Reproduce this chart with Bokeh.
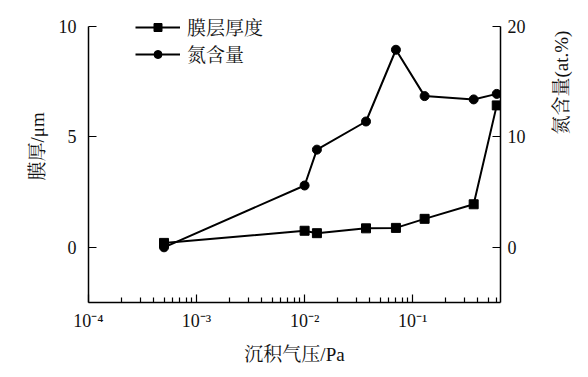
import math
from bokeh.plotting import figure
from bokeh.models import (Range1d, LinearAxis, FixedTicker, CustomJSTickFormatter,
                          Legend, LegendItem)
from bokeh.embed import file_html
from bokeh.resources import INLINE

# ---- data ----
pressure = [5e-4, 0.010, 0.013, 0.037, 0.070, 0.129, 0.367, 0.60]
thickness = [0.2, 0.75, 0.64, 0.86, 0.88, 1.29, 1.95, 6.43]
nitrogen = [0.0, 5.6, 8.85, 11.4, 17.9, 13.7, 13.4, 13.9]
x_major = [1e-4, 1e-3, 1e-2, 1e-1]
x_minor = [m * d for d in x_major for m in range(2, 10) if m * d < 0.65]
left_ticks = [0, 5, 10]
right_ticks = [0, 10, 20]
series_names = ["膜层厚度", "氮含量"]
x_title = "沉积气压/Pa"
y_title = "膜厚/μm"
y2_title = "氮含量(at.%)"

FONT = "'Liberation Serif', 'Noto Serif CJK SC', 'Noto Sans CJK SC'"
NB = "\u00a0"

p = figure(width=588, height=377, x_axis_type="log",
           x_range=Range1d(1e-4, 0.65), y_range=Range1d(-2.5, 11),
           output_backend="svg", toolbar_location=None,
           min_border_left=88, min_border_right=88,
           min_border_top=4, min_border_bottom=75)
p.extra_y_ranges = {"n": Range1d(-5, 22)}
p.outline_line_color = None
p.xgrid.visible = False
p.ygrid.visible = False
p.background_fill_color = "white"
p.border_fill_color = "white"

# x axis
xa = p.xaxis[0]
xa.ticker = FixedTicker(ticks=x_major, minor_ticks=x_minor)
xa.formatter = CustomJSTickFormatter(code="""
const sup = {'-':'\u207b','0':'\u2070','1':'\u00b9','2':'\u00b2','3':'\u00b3','4':'\u2074','5':'\u2075','6':'\u2076','7':'\u2077','8':'\u2078','9':'\u2079'};
const e = Math.round(Math.log10(tick));
return '10' + String(e).split('').map(c => sup[c]).join('');
""")
# left axis
ya = p.yaxis[0]
ya.ticker = FixedTicker(ticks=left_ticks)
ya.bounds = (-2.5, 10)
# right axis
ra = LinearAxis(y_range_name="n", ticker=FixedTicker(ticks=right_ticks))
ra.bounds = (-5, 20)
p.add_layout(ra, "right")

for ax in [xa, ya, ra]:
    ax.axis_line_color = "black"
    ax.axis_line_width = 1.5
    ax.major_tick_line_color = "black"
    ax.major_tick_line_width = 1.2
    ax.minor_tick_line_color = "black"
    ax.minor_tick_line_width = 1.2
    ax.major_tick_in = 8
    ax.major_tick_out = 0
    ax.minor_tick_in = 5
    ax.minor_tick_out = 0
    ax.major_label_text_font = FONT
    ax.major_label_text_font_size = "18px"
    ax.major_label_text_color = "#111111"
    ax.axis_label_text_font = FONT
    ax.axis_label_text_font_size = "19px"
    ax.axis_label_text_font_style = "normal"
    ax.axis_label_text_color = "#111111"
xa.major_label_standoff = 8
ya.major_label_standoff = 12
ra.major_label_standoff = 7
xa.axis_label = x_title
ya.axis_label = NB * 3 + y_title
ra.axis_label = NB * 4 + y2_title
ra.axis_label_orientation = math.pi / 2
xa.axis_label_standoff = 10
ya.axis_label_standoff = 8
ra.axis_label_standoff = 33

# data
l1 = p.line(pressure, thickness, line_color="black", line_width=2)
s1 = p.scatter(pressure, thickness, marker="square", size=9, color="black")
l2 = p.line(pressure, nitrogen, line_color="black", line_width=2, y_range_name="n")
s2 = p.scatter(pressure, nitrogen, marker="circle", size=9, color="black", y_range_name="n")

legend = Legend(items=[LegendItem(label=series_names[0], renderers=[l1, s1]),
                       LegendItem(label=series_names[1], renderers=[l2, s2])],
                location=(47, 235), padding=0, margin=0, spacing=0,
                glyph_width=45, glyph_height=20, label_height=20, label_standoff=7,
                label_text_font=FONT, label_text_font_size="19px",
                label_text_color="#111111",
                border_line_color=None, background_fill_alpha=0)
p.add_layout(legend, "center")

open("out.html", "w").write(file_html(p, INLINE))
